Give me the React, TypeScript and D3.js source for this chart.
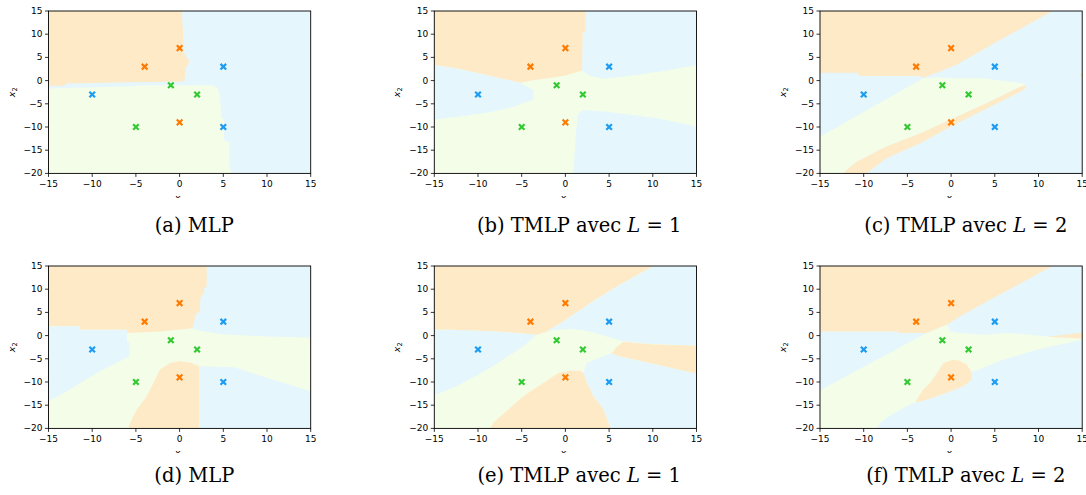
import * as d3 from "d3";

// class colours: 0 orange, 1 blue, 2 green
const markerColors = ["#ff7a00", "#1c9cf2", "#33c933"];
const regionColors = ["#feeac6", "#e5f6fd", "#f4fde7"];

// training points (same in every panel)
const pointsX = [0, -4, 0, 5, -10, 5, -1, 2, -5];
const pointsY = [7, 3, -9, 3, -3, -10, -1, -3, -10];
const pointClass = [0, 0, 0, 1, 1, 1, 2, 2, 2];

const xTicks = [-15, -10, -5, 0, 5, 10, 15];
const yTicks = [-20, -15, -10, -5, 0, 5, 10, 15];

const letters = ["a", "b", "c", "d", "e", "f"];
const models = ["MLP", "TMLP avec", "TMLP avec", "MLP", "TMLP avec", "TMLP avec"];
const depths = [null, 1, 2, null, 1, 2];

// decision regions: background class + polygons drawn in order
const backgrounds = [1, 2, 1, 2, 2, 1];

const regionsA = [
  { cls: 0, pts: [[-15, 15], [0.25, 15], [0.4, 10], [0.5, 6], [0.8, 5], [1.1, 4.3], [1.0, 3.5], [0.7, 2.8], [0.6, 0.8], [0.55, -0.2], [-5.5, -0.35], [-13, -0.6], [-13.2, -1.1], [-15, -1.1]] },
  { cls: 2, pts: [[-15, -1.7], [-11, -1.5], [-5.5, -1.2], [-4.5, -1.0], [3.8, -1.0], [4.4, -1.7], [4.6, -3.5], [4.8, -8], [5.1, -8.5], [5.1, -12.8], [5.7, -13.4], [5.7, -18.6], [6.0, -20], [-15, -20]] },
];

const regionsB = [
  { cls: 0, pts: [[-15, 15], [2.33, 15], [2.33, 10.5], [2.0, 10.5], [1.95, 5], [1.9, 2.2], [0, 1.1], [-2, 0.5], [-3.7, 0.1], [-5.2, -0.45], [-8.6, 1.0], [-12.4, 2.6], [-15, 3.35]] },
  { cls: 1, pts: [[-15, 3.35], [-12.4, 2.6], [-8.6, 1.0], [-5.2, -0.45], [-3.66, -2.0], [-3.66, -4.05], [-6, -5.7], [-8.6, -6.8], [-12.4, -7.8], [-15, -8.4]] },
  { cls: 1, pts: [[2.33, 15], [15, 15], [15, 3.35], [12, 2.3], [8, 1.2], [4.5, 0.4], [2.8, 1.0], [1.9, 2.2], [1.95, 5], [2.0, 10.5], [2.33, 10.5]] },
  { cls: 1, pts: [[15, -9.9], [10.5, -8.1], [4.7, -6.7], [2.06, -6.35], [1.4, -7.3], [1.3, -9.5], [1.18, -12], [1.0, -17], [0.84, -20], [15, -20]] },
];

const regionsC = [
  { cls: 0, pts: [[-15, 15], [11.6, 15], [5.6, 8.75], [0.6, 3.4], [-1.2, 2.0], [-3.2, 0.6], [-3.6, 1.0], [-10.4, 1.0], [-10.8, 1.7], [-15, 1.7]] },
  { cls: 2, pts: [[-15, -12.1], [-3.18, 0.49], [-1.28, 0.7], [-0.1, 0.5], [3.7, 0.5], [6.8, -0.24], [8.3, -0.6], [8.5, -1.0], [7.9, -1.3], [4.06, -4.9], [0.25, -8.1], [-3.56, -11.4], [-7.4, -14.2], [-10.8, -17.5], [-12, -19.3], [-12.3, -20], [-15, -20]] },
  { cls: 0, pts: [[8.5, -1.0], [7.9, -1.3], [4.06, -4.9], [0.25, -8.1], [-3.56, -11.4], [-7.4, -14.2], [-10.8, -17.5], [-12, -19.3], [-12.3, -20], [-9.7, -20], [-7.4, -16.75], [-3.56, -13.5], [0.25, -9.6], [4.06, -6.0], [7.9, -2.4], [8.4, -1.8], [8.6, -1.4]] },
  { cls: 0, pts: [[15, 1.7], [14.7, 1.2], [15, 0.7]] },
];

const regionsD = [
  { cls: 1, pts: [[1.4, 15], [15, 15], [15, -0.4], [10, -0.2], [5, 0.3], [2.5, 1.0], [1.4, 1.6]] },
  { cls: 0, pts: [[-15, 15], [3.1, 15], [3.1, 10.6], [2.8, 10.2], [2.8, 9.1], [2.5, 8.7], [2.35, 7.7], [2.35, 5.2], [1.97, 4.8], [1.78, 4.1], [1.58, 2.0], [1.4, 1.6], [-2.2, 0.9], [-6.0, 0.55], [-6.1, 1.26], [-11.4, 1.26], [-11.5, 2.0], [-15, 2.0]] },
  { cls: 1, pts: [[-15, 2.0], [-11.5, 2.0], [-11.4, 1.26], [-6.1, 1.26], [-6.0, 0.55], [-6.04, -1.25], [-5.74, -1.6], [-5.74, -4.47], [-9.47, -8.05], [-12.9, -12.0], [-15, -14.1]] },
  { cls: 0, pts: [[2.27, -20], [2.27, -6.62], [1.2, -5.8], [0.06, -5.54], [-1.08, -5.9], [-2.23, -7.3], [-2.99, -10.2], [-3.75, -13.06], [-4.9, -15.9], [-5.66, -18.8], [-5.85, -20]] },
  { cls: 1, pts: [[2.27, -20], [2.27, -6.62], [6.2, -6.8], [10, -9.1], [15, -12], [15, -20]] },
];

const regionsE = [
  { cls: 0, pts: [[-15, 15], [10.08, 15], [5.88, 10.56], [2.82, 6.98], [-0.23, 3.05], [-2.14, 0.9], [-3.28, 0.18], [-7.86, 0.9], [-13.2, 1.26], [-15, 1.26]] },
  { cls: 1, pts: [[-15, 1.26], [-13.2, 1.26], [-7.86, 0.9], [-3.28, 0.18], [-4.81, -2.32], [-8.63, -6.98], [-12.44, -10.9], [-15, -12.85]] },
  { cls: 1, pts: [[10.08, 15], [15, 15], [15, -2.2], [10, -1.8], [6.64, -1.2], [4.73, -0.2], [2.82, 0.9], [0.92, 1.4], [-0.99, 1.26], [-2.14, 0.9], [-0.23, 3.05], [2.82, 6.98], [5.88, 10.56]] },
  { cls: 0, pts: [[6.64, -1.3], [10, -1.9], [15, -2.2], [15, -8.2], [10.46, -6.26], [5.88, -4.33], [5.3, -3.8], [5.9, -2.4]] },
  { cls: 1, pts: [[5.3, -3.8], [5.88, -4.33], [10.46, -6.26], [15, -8.2], [15, -20], [5.11, -20], [4.92, -18.8], [4.35, -15.9], [3.2, -13.06], [2.44, -10.2], [2.06, -8.05], [2.44, -5.9], [4.35, -4.47]] },
  { cls: 0, pts: [[5.11, -20], [4.92, -18.8], [4.35, -15.9], [3.2, -13.06], [2.44, -10.2], [2.06, -8.05], [1.7, -7.6], [0.5, -7.6], [-0.7, -8.0], [-1.37, -8.77], [-4.81, -13.06], [-8.24, -18.8], [-8.63, -20]] },
];

const regionsF = [
  { cls: 0, pts: [[-15, 15], [11.6, 15], [4.44, 7.7], [1.0, 4.12], [-0.5, 2.33], [-2.8, 0.54], [-5.85, 0.54], [-6.2, 0.9], [-15, 0.9]] },
  { cls: 2, pts: [[-15, -11.8], [-2.8, 0.54], [-0.5, 2.33], [-0.3, 2.0], [-0.13, 0.9], [1.0, 0.54], [4.06, 0.18], [6.35, 0.54], [9, 0.2], [11.7, -0.3], [15, -0.6], [15, -0.9], [9.8, -3.04], [5.97, -5.2], [2.9, -7.5], [2.35, -7.7], [2.35, -9.5], [1.4, -10.9], [-0.5, -12.3], [-2.8, -13.8], [-4.1, -14.35], [-5.1, -15.2], [-7.4, -17.7], [-8.1, -18.8], [-8.5, -20], [-15, -20]] },
  { cls: 0, pts: [[11, -0.25], [15, 0.6], [15, -0.6]] },
  { cls: 0, pts: [[0.25, -5.2], [-0.9, -5.9], [-1.47, -7.7], [-2.4, -10.2], [-3.2, -11.6], [-3.94, -13.8], [-4.1, -14.4], [-2.8, -13.8], [-0.5, -12.3], [1.4, -10.9], [2.35, -9.5], [2.35, -7.9], [1.8, -6.3], [1.0, -5.4]] },
];

const panelRegions = [regionsA, regionsB, regionsC, regionsD, regionsE, regionsF];

// layout
const colLeft = [48.5, 434.3, 820];
const rowTop = [11, 266];
const plotW = 262.2;
const plotH = 162.4;
const captionCenter = [194.3, 579.2, 965.8];
const sans = "DejaVu Sans, sans-serif";
const serif = "DejaVu Serif, serif";

const fmt = (v: number) => (v < 0 ? `\u2212${Math.abs(v)}` : `${v}`);

const Panel = ({ index }: { index: number }) => {
  const col = index % 3;
  const row = Math.floor(index / 3);
  const left = colLeft[col];
  const top = rowTop[row];

  const x = d3.scaleLinear().domain([-15, 15]).range([left, left + plotW]);
  const y = d3.scaleLinear().domain([-20, 15]).range([top + plotH, top]);
  const line = d3
    .line<number[]>()
    .x((d) => x(d[0]))
    .y((d) => y(d[1]))
    .curve(d3.curveLinearClosed);

  const clipId = `plot-${index}`;
  const xlabClip = `xlab-${index}`;
  const bottom = top + plotH;
  const midX = left + plotW / 2;

  return (
    <g>
      <defs>
        <clipPath id={clipId}>
          <rect x={left} y={top} width={plotW} height={plotH} />
        </clipPath>
        <clipPath id={xlabClip}>
          <rect x={midX - 20} y={bottom + 10} width={40} height={14.5} />
        </clipPath>
      </defs>

      <g clipPath={`url(#${clipId})`}>
        <rect x={left} y={top} width={plotW} height={plotH} fill={regionColors[backgrounds[index]]} />
        {panelRegions[index].map((r, i) => (
          <path key={i} d={line(r.pts) ?? ""} fill={regionColors[r.cls]} />
        ))}
        {pointsX.map((px, i) => (
          <path
            key={`p${i}`}
            transform={`translate(${x(px)},${y(pointsY[i])})`}
            d="M-2.8,-2.8L2.8,2.8M-2.8,2.8L2.8,-2.8"
            stroke={markerColors[pointClass[i]]}
            strokeWidth={2.2}
            fill="none"
          />
        ))}
      </g>

      <rect x={left} y={top} width={plotW} height={plotH} fill="none" stroke="#000" strokeWidth={0.9} />

      {xTicks.map((t) => (
        <g key={`x${t}`} transform={`translate(${x(t)},${bottom})`}>
          <line y2={3.5} stroke="#000" strokeWidth={0.8} />
          <text y={13.2} textAnchor="middle" fontSize={9} fontFamily={sans} fill="#000">
            {fmt(t)}
          </text>
        </g>
      ))}
      {yTicks.map((t) => (
        <g key={`y${t}`} transform={`translate(${left},${y(t)})`}>
          <line x2={-3.5} stroke="#000" strokeWidth={0.8} />
          <text x={-6} dy="0.33em" textAnchor="end" fontSize={9} fontFamily={sans} fill="#000">
            {fmt(t)}
          </text>
        </g>
      ))}

      {/* y label */}
      <text
        transform={`translate(${left - 34},${top + plotH / 2}) rotate(-90)`}
        textAnchor="middle"
        fontSize={9.5}
        fontFamily={sans}
        fill="#000"
      >
        <tspan fontStyle="italic">x</tspan>
        <tspan fontSize={6.7} dy={2}>2</tspan>
      </text>

      {/* x label, cut off by the figure crop */}
      <g clipPath={`url(#${xlabClip})`}>
        <text x={midX} y={bottom + 28} textAnchor="middle" fontSize={9.5} fontFamily={sans} fill="#000">
          <tspan fontStyle="italic">x</tspan>
          <tspan fontSize={6.7} dy={2}>1</tspan>
        </text>
      </g>

      {/* caption */}
      <text
        x={captionCenter[col]}
        y={row === 0 ? 231.5 : 481.5}
        textAnchor="middle"
        fontSize={19.5}
        fontFamily={serif}
        fill="#000"
      >
        {`(${letters[index]}) ${models[index]}`}
        {depths[index] !== null && (
          <>
            <tspan> </tspan>
            <tspan fontStyle="italic">L</tspan>
            <tspan>{` = ${depths[index]}`}</tspan>
          </>
        )}
      </text>
    </g>
  );
};

const App = () => {
  return (
    <div style={{ position: "absolute", left: 0, top: 0 }}>
      <svg width={1086} height={495} viewBox="0 0 1086 495" style={{ display: "block", background: "#fff" }}>
        {letters.map((l, i) => (
          <Panel key={l} index={i} />
        ))}
      </svg>
    </div>
  );
};

export default App;
